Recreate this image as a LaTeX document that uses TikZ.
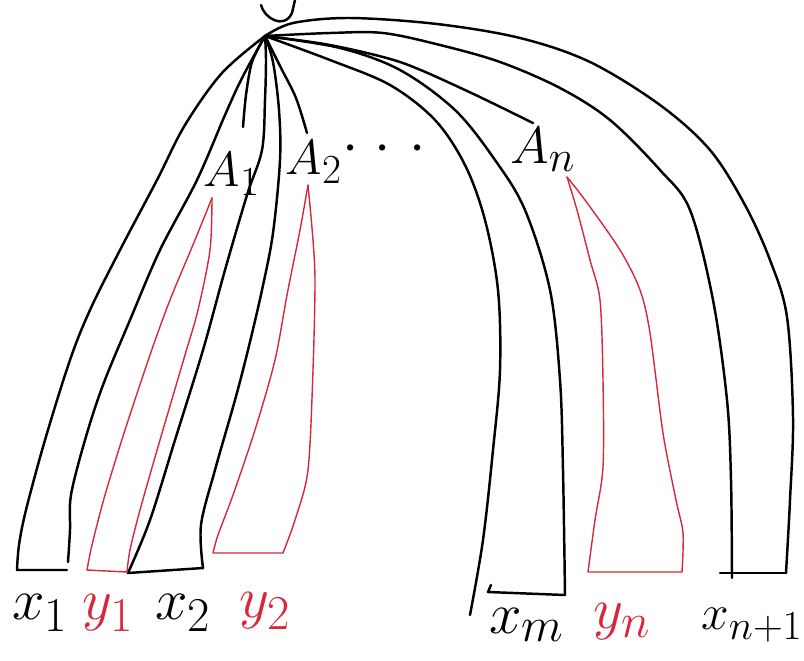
\documentclass[tikz,border=0pt]{standalone}
\definecolor{redink}{RGB}{214,40,58}
\begin{document}
\begin{tikzpicture}[x=0.03cm,y=-0.03cm,
  ink/.style={line width=2.1pt, line cap=round, line join=round},
  rink/.style={draw=redink, line width=1.2pt, line cap=round, line join=round},
  lbl/.style={font=\Huge, scale=2, inner sep=0pt},
  rlbl/.style={lbl, text=redink}]
\useasboundingbox (0,0) rectangle (804,660);
\coordinate (root) at (265,36);
% top hook
\draw[ink] (261,5) .. controls (264,18) and (284,30) .. (292,13) -- (295,0);

% x1 strip
\coordinate (x1bl) at (17,570);
\coordinate (x1br) at (67,570);
\draw[ink] plot[smooth,tension=0.55] coordinates {(root) (222,73) (185,125) (157,180) (120,250) (90,310) (70,360) (45,440) (26,510) (19,545) (x1bl)} -- (x1br);
\draw[ink] plot[smooth,tension=0.55] coordinates {(root) (242,78) (225,115) (197,180) (160,250) (130,320) (103,385) (85,440) (71,495) (70,530) (68,562)};

% x2 strip
\coordinate (x2bl) at (128,573);
\coordinate (x2br) at (203,568);
\draw[ink] plot[smooth,tension=0.55] coordinates {(root) (266,60) (265,100) (262,150) (247,195) (225,270) (203,350) (175,440) (150,520) (x2bl)} -- (x2br);
\draw[ink] plot[smooth,tension=0.55] coordinates {(root) (273,62) (279,110) (280,160) (273,233) (262,290) (248,350) (235,400) (215,470) (201,525) (x2br)};

% edges to A1, A2, An
\coordinate (a1end) at (243,127);
\coordinate (a2end) at (307,133);
\coordinate (anend) at (533,123);
\draw[ink] plot[smooth] coordinates {(root) (252,62) (246,95) (a1end)};
\draw[ink] plot[smooth] coordinates {(root) (280,66) (296,98) (a2end)};
\draw[ink] plot[smooth] coordinates {(root) (330,45) (400,62) (465,90) (anend)};

% xm strip
\coordinate (xmbl) at (488,592);
\coordinate (xmbr) at (565,595);
\draw[ink] plot[smooth,tension=0.55] coordinates {(root) (330,60) (390,85) (435,120) (465,165) (485,220) (498,290) (500,370) (493,450) (483,540) (470,615)};
\draw[ink] (491,585) -- (xmbl) -- (xmbr);
\draw[ink] plot[smooth,tension=0.55] coordinates {(root) (340,48) (400,70) (455,110) (495,160) (525,210) (550,290) (560,380) (563,470) (xmbr)};

% x_{n+1} strip
\coordinate (xnbl) at (720,573);
\coordinate (xnbr) at (786,573);
\draw[ink] plot[smooth,tension=0.55] coordinates {(root) (330,33) (383,33) (440,45) (500,62) (560,88) (610,120) (660,170) (690,210) (713,300) (727,400) (731,480) (732,578)};
\draw[ink] (xnbl) -- (xnbr);
\draw[ink] plot[smooth,tension=0.55] coordinates {(root) (293,23) (350,18) (437,24) (520,38) (590,62) (660,105) (710,150) (745,205) (770,260) (787,317) (793,417) (790,500) (xnbr)};

% y1 red
\coordinate (y1top) at (212,198);
\coordinate (y1bl) at (87,570);
\coordinate (y1br) at (127,572);
\draw[rink] plot[smooth,tension=0.5] coordinates {(y1top) (195,240) (170,300) (150,355) (125,430) (105,495) (92,545) (y1bl)} -- (y1br);
\draw[rink] plot[smooth,tension=0.5] coordinates {(y1top) (210,250) (198,310) (185,355) (160,440) (140,510) (130,550) (y1br)};

% y2 red
\coordinate (y2top) at (308,185);
\coordinate (y2bl) at (213,553);
\coordinate (y2br) at (283,553);
\draw[rink] plot[smooth,tension=0.5] coordinates {(y2top) (300,230) (287,295) (275,360) (255,430) (233,495) (218,535) (y2bl)} -- (y2br);
\draw[rink] plot[smooth,tension=0.5] coordinates {(y2top) (313,240) (315,283) (313,370) (308,470) (295,520) (y2br)};

% yn red
\coordinate (yntop) at (567,177);
\coordinate (ynbl) at (588,572);
\coordinate (ynbr) at (682,572);
\draw[rink] plot[smooth,tension=0.5] coordinates {(yntop) (577,210) (590,260) (600,300) (603,380) (603,467) (595,520) (ynbl)} -- (ynbr);
\draw[rink] plot[smooth,tension=0.5] coordinates {(yntop) (585,200) (620,250) (640,290) (650,333) (663,433) (676,500) (683,533) (ynbr)};

% labels
\node[lbl, scale=0.85] (A1) at (232,174) {$A_1$};
\node[lbl, scale=0.85] (A2) at (314,162) {$A_2$};
\node[lbl] (dots) at (384,150) {$\cdot$\hspace{7pt}$\cdot$\hspace{8pt}$\cdot$};
\node[lbl, scale=0.9] (An) at (543,150) {$A_n$};
\node[lbl] (x1) at (40,613) {$x_1$};
\node[rlbl] (y1) at (108,613) {$y_1$};
\node[lbl] (x2) at (183,613) {$x_2$};
\node[rlbl] (y2) at (265,611) {$y_2$};
\node[lbl] (xm) at (527,625) {$x_m$};
\node[rlbl] (yn) at (622,622) {$y_n$};
\node[lbl, scale=0.85] (xn1) at (752,625) {$x_{n+1}$};
\end{tikzpicture}
\end{document}
